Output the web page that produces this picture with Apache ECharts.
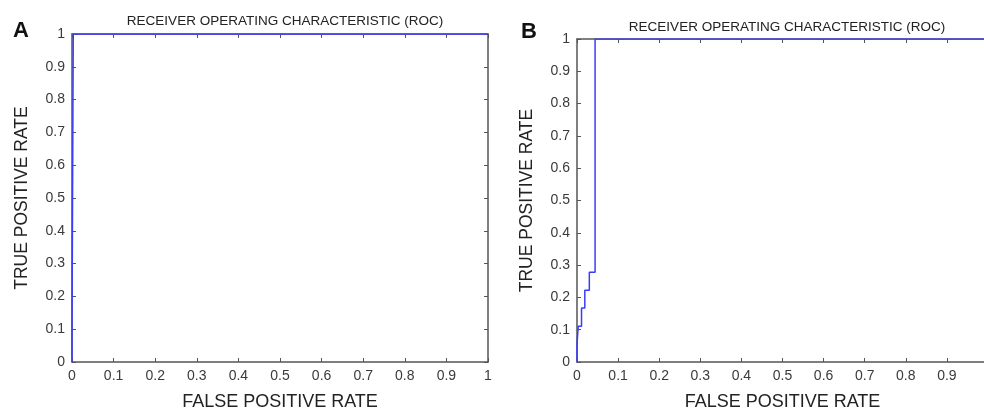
<!DOCTYPE html>
<html><head><meta charset="utf-8">
<script src="https://cdn.jsdelivr.net/npm/echarts@6/dist/echarts.min.js"></script>
<style>html,body{margin:0;padding:0;background:#fff}#c{width:984px;height:411px}</style>
</head><body><div id="c"></div>
<script>
// Panel A ROC curve
const rocA_fpr = [0, 0, 0.003, 0.003, 1];
const rocA_tpr = [0, 0.1, 0.1, 1, 1];
// Panel B ROC curve
const rocB_fpr = [0, 0, 0.003, 0.011, 0.011, 0.019, 0.019, 0.030, 0.030, 0.044, 0.044, 1];
const rocB_tpr = [0, 0.056, 0.111, 0.111, 0.167, 0.167, 0.222, 0.222, 0.278, 0.278, 1, 1];
const panelLabels = ['A', 'B'];
const chartTitle = 'RECEIVER OPERATING CHARACTERISTIC (ROC)';
const xName = 'FALSE POSITIVE RATE';
const yName = 'TRUE POSITIVE RATE';

const pairs = (xs, ys) => xs.map((x, i) => [x, ys[i]]);
const axisCol = '#555';
const font = 'Arial, Liberation Sans';
const lblStyle = {color: '#3a3a3a', fontFamily: font, fontSize: 14};
const xNameStyle = {color: '#222', fontFamily: font, fontSize: 18};
const yNameStyle = {color: '#222', fontFamily: font, fontSize: 17.5};
const tick = {show: true, inside: true, length: 4, lineStyle: {color: axisCol}};
const line = {show: true, onZero: false, lineStyle: {color: axisCol, width: 1.5}};

function mainX(g) {
  return {gridIndex: g, type: 'value', min: 0, max: 1, interval: 0.1, position: 'bottom',
    name: xName, nameLocation: 'middle', nameGap: 31, nameTextStyle: xNameStyle,
    axisLine: line, axisTick: tick,
    axisLabel: Object.assign({margin: 7}, lblStyle), splitLine: {show: false}};
}
function topX(g) {
  return {gridIndex: g, type: 'value', min: 0, max: 1, interval: 0.1, position: 'top',
    axisLine: line, axisTick: tick,
    axisLabel: {show: false}, splitLine: {show: false}};
}
function mainY(g, gap) {
  return {gridIndex: g, type: 'value', min: 0, max: 1, interval: 0.1, position: 'left',
    name: yName, nameLocation: 'middle', nameGap: gap, nameTextStyle: yNameStyle,
    axisLine: line, axisTick: tick,
    axisLabel: Object.assign({margin: 7}, lblStyle), splitLine: {show: false}};
}
function rightY(g) {
  return {gridIndex: g, type: 'value', min: 0, max: 1, interval: 0.1, position: 'right',
    axisLine: line, axisTick: tick,
    axisLabel: {show: false}, splitLine: {show: false}};
}

const chart = echarts.init(document.getElementById('c'), null, {renderer: 'canvas'});
chart.setOption({
  animation: false,
  title: [
    {text: panelLabels[0], left: 8, top: 15, textStyle: {fontFamily: font, fontSize: 22, fontWeight: 'bold', color: '#111'}},
    {text: panelLabels[1], left: 516, top: 16, textStyle: {fontFamily: font, fontSize: 22, fontWeight: 'bold', color: '#111'}},
    {text: chartTitle, left: 280, textAlign: 'center', top: 9, textStyle: {fontFamily: font, fontSize: 13.5, fontWeight: 'normal', color: '#222'}},
    {text: chartTitle, left: 782, textAlign: 'center', top: 15, textStyle: {fontFamily: font, fontSize: 13.5, fontWeight: 'normal', color: '#222'}}
  ],
  grid: [
    {left: 72, top: 34, width: 416, height: 328, outerBoundsMode: 'none', containLabel: false},
    {left: 577, top: 39, width: 411, height: 323, outerBoundsMode: 'none', containLabel: false}
  ],
  xAxis: [mainX(0), topX(0), mainX(1), topX(1)],
  yAxis: [mainY(0, 41), rightY(0), mainY(1, 41), rightY(1)],
  series: [
    {type: 'line', xAxisIndex: 0, yAxisIndex: 0, data: pairs(rocA_fpr, rocA_tpr), showSymbol: false, lineStyle: {color: '#3b3bff', width: 1.5}, z: 5},
    {type: 'line', xAxisIndex: 2, yAxisIndex: 2, data: pairs(rocB_fpr, rocB_tpr), showSymbol: false, lineStyle: {color: '#3b3bff', width: 1.5}, z: 5}
  ]
});
</script></body></html>
